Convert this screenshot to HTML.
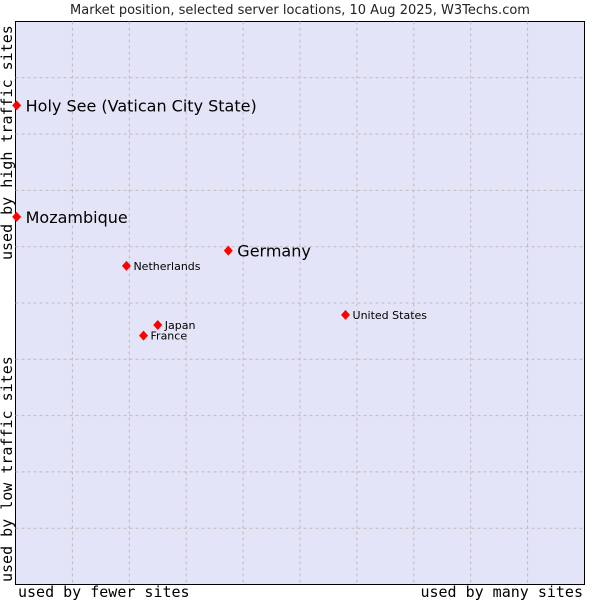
<!DOCTYPE html>
<html><head><meta charset="utf-8"><style>
body{margin:0;background:#fff;}
svg{display:block;font-family:"DejaVu Sans","Liberation Sans",sans-serif;}
</style></head><body>
<svg id="chart" width="600" height="600">
<text x="300" y="14" text-anchor="middle" font-size="13" fill="#222">Market position, selected server locations, 10 Aug 2025, W3Techs.com</text>
<rect x="15.5" y="21.5" width="569" height="563" fill="#e4e4f8" stroke="#000"/>
<g id="grid"></g>
<g id="points"></g>
<text x="18" y="597" font-family="DejaVu Sans Mono,Liberation Mono,monospace" font-size="15">used by fewer sites</text>
<text x="583" y="597" text-anchor="end" font-family="DejaVu Sans Mono,Liberation Mono,monospace" font-size="15">used by many sites</text>
<text transform="translate(12,260) rotate(-90)" font-family="DejaVu Sans Mono,Liberation Mono,monospace" font-size="15">used by high traffic sites</text>
<text transform="translate(12,582) rotate(-90)" font-family="DejaVu Sans Mono,Liberation Mono,monospace" font-size="15">used by low traffic sites</text>
</svg>
<script>
const names=["Holy See (Vatican City State)","Mozambique","Germany","Netherlands","United States","Japan","France"];
const xVals=[0.2,0.2,37.4,19.5,58.0,25.0,22.5];
const yVals=[85.1,65.3,59.3,56.6,47.9,46.1,44.2];
const big=[true,true,true,false,false,false,false];
const L=15.5,T=21.5,W=569,H=563;
const sx=v=>L+v/100*W, sy=v=>T+H-v/100*H;
const NS="http://www.w3.org/2000/svg";
const grid=document.getElementById('grid'),pts=document.getElementById('points');
for(let i=1;i<10;i++){
 const x=L+W*i/10,y=T+H*i/10;
 const a=document.createElementNS(NS,'line');
 
 
 a.setAttribute('x1',x);a.setAttribute('x2',x);a.setAttribute('y1',T);a.setAttribute('y2',T+H);
 a.setAttribute('stroke','#bbb');a.setAttribute('stroke-dasharray','3,3');grid.appendChild(a);
 const b=document.createElementNS(NS,'line');
 
 
 b.setAttribute('x1',L);b.setAttribute('x2',L+W);b.setAttribute('y1',y);b.setAttribute('y2',y);
 b.setAttribute('stroke','#bbb');b.setAttribute('stroke-dasharray','3,3');grid.appendChild(b);
}
names.forEach((n,i)=>{
 const x=sx(xVals[i]),y=sy(yVals[i]);
 const d=document.createElementNS(NS,'path');
 
 
 d.setAttribute('d',`M${x} ${y-5}L${x+4.5} ${y}L${x} ${y+5}L${x-4.5} ${y}Z`);
 d.setAttribute('fill','#f00');pts.appendChild(d);
 const t=document.createElementNS(NS,'text');
 
 
 t.setAttribute('x',x+(big[i]?9:7));t.setAttribute('y',y+(big[i]?6:4));
 t.setAttribute('font-size',big[i]?16:11);t.setAttribute('fill','#000');
 t.textContent=n;pts.appendChild(t);
});
</script>
</body></html>
